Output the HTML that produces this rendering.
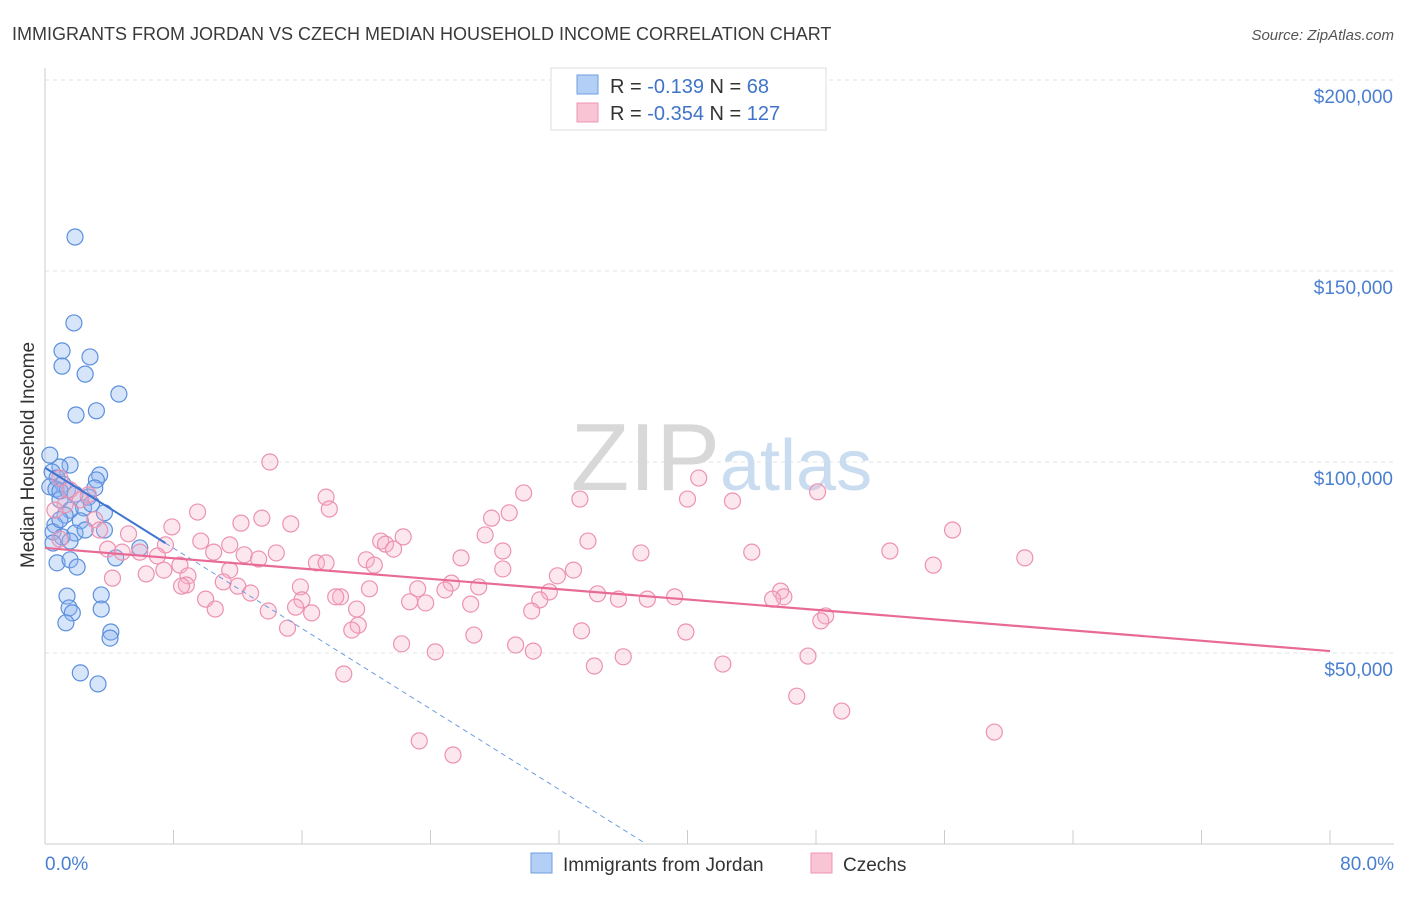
<!DOCTYPE html>
<html><head><meta charset="utf-8"><style>
body{margin:0;background:#fff;font-family:"Liberation Sans",sans-serif}
svg text{font-family:"Liberation Sans",sans-serif}
</style></head><body>
<svg id="c" width="1406" height="892">
<text x="12" y="40" font-size="18" fill="#3a3a3a">IMMIGRANTS FROM JORDAN VS CZECH MEDIAN HOUSEHOLD INCOME CORRELATION CHART</text>
<text x="1394" y="40" font-size="15" fill="#555" font-style="italic" text-anchor="end">Source: ZipAtlas.com</text>
<g id="grid"></g>
<text x="720" y="490" font-size="96" fill="#d8d8d8" text-anchor="end" font-family="Liberation Serif">ZIP</text>
<text x="720" y="490" font-size="72" fill="#c9dcf0">atlas</text>
<g id="marks"></g>
<text x="34" y="455" font-size="19" fill="#333" text-anchor="middle" transform="rotate(-90 34 455)">Median Household Income</text>
<text x="45" y="870" font-size="19" fill="#4a7fd0">0.0%</text>
<text x="1394" y="870" font-size="19" fill="#4a7fd0" text-anchor="end">80.0%</text>
<g>
<rect x="551" y="68" width="275" height="62" fill="#fff" stroke="#ddd"/>
<rect x="577" y="75" width="21" height="19" fill="#b3cff5" stroke="#6d9de0"/>
<rect x="577" y="103" width="21" height="19" fill="#f9c4d4" stroke="#ee94b1"/>
<text x="610" y="93" font-size="20" fill="#333">R = <tspan fill="#3f74c8">-0.139</tspan>   N = <tspan fill="#3f74c8"> 68</tspan></text>
<text x="610" y="120" font-size="20" fill="#333">R = <tspan fill="#3f74c8">-0.354</tspan>   N = <tspan fill="#3f74c8">127</tspan></text>
</g>
<g>
<rect x="531" y="853" width="21" height="20" fill="#b3cff5" stroke="#6d9de0"/>
<text x="563" y="871" font-size="19" fill="#333">Immigrants from Jordan</text>
<rect x="811" y="853" width="21" height="20" fill="#f9c4d4" stroke="#ee94b1"/>
<text x="843" y="871" font-size="19" fill="#333">Czechs</text>
</g>
</svg>
<script>
const yTicks=[50000,100000,150000,200000];
const yTickLabels=["$50,000","$100,000","$150,000","$200,000"];
const blueX=[1.87,1.8,1.06,2.8,1.06,2.5,4.6,3.2,1.93,0.3,1.56,0.93,0.44,3.4,0.75,3.2,1.12,0.3,0.68,3.1,1.4,2.7,0.93,2.4,1.56,3.7,1.25,2.2,0.62,0.5,3.7,1.87,1.06,1.56,0.5,5.9,4.4,0.75,1.56,2.0,1.37,3.5,1.5,3.5,1.7,1.3,4.1,4.05,2.2,3.3,0.93,1.87,2.9,0.93,2.5];
const blueY=[158.9,136.4,129.1,127.5,125.1,123.0,117.8,113.4,112.3,101.8,99.2,98.7,97.4,96.6,95.8,95.3,94.2,93.5,92.9,93.2,92.7,90.8,90.1,88.0,87.4,86.7,86.1,84.6,83.5,81.7,82.2,81.4,80.4,79.3,78.8,77.5,74.9,73.6,74.4,72.5,64.9,65.2,61.8,61.5,60.5,57.9,55.5,53.9,44.8,41.9,92.4,91.6,89.0,84.9,82.2];
const pinkX=[14.0,40.7,29.8,17.5,33.3,40.0,42.8,48.1,17.7,28.9,9.5,13.5,15.3,12.2,7.9,27.8,56.5,5.2,27.4,22.3,20.9,21.2,33.8,11.5,9.7,7.5,21.7,28.5,37.1,44.0,52.6,3.9,4.8,5.9,10.5,14.4,12.4,7.0,61.0,20.0,25.9,13.3,16.9,17.5,20.5,8.4,55.3,11.5,7.4,28.5,32.9,6.3,8.9,4.2,31.9,11.1,25.3,8.8,12.0,8.5,15.9,27.0,20.2,23.2,24.9,45.8,12.8,31.4,34.4,46.0,18.4,18.1,35.7,37.5,39.2,45.3,16.0,22.7,23.7,30.8,10.0,26.5,10.6,15.6,19.4,13.9,30.3,16.6,48.6,48.3,19.5,15.1,19.1,33.4,39.9,26.7,22.2,29.3,30.4,24.3,36.0,47.5,34.2,42.2,18.6,46.8,49.6,59.1,23.3,25.4,0.93,1.56,2.7,1.25,3.1,2.2,0.62,3.4,0.93];
const pinkY=[100.0,95.8,91.9,90.8,90.3,90.3,89.8,92.2,87.7,86.7,86.9,85.3,83.8,84.0,83.0,85.3,82.2,81.2,80.9,80.4,79.3,78.5,79.3,78.3,79.3,78.3,77.2,76.7,76.2,76.4,76.7,77.2,76.4,76.4,76.4,76.2,75.7,75.4,74.9,74.4,74.9,74.6,73.6,73.6,73.0,73.0,73.0,71.7,71.7,72.0,71.7,70.7,70.2,69.6,70.2,68.6,68.3,67.8,67.5,67.5,67.3,67.3,66.8,66.8,66.5,66.2,65.7,66.0,65.5,64.7,64.7,64.7,64.1,64.1,64.7,64.1,63.9,63.4,63.1,63.9,64.1,62.8,61.5,62.0,61.5,61.0,61.0,60.5,59.7,58.4,57.3,56.5,56.0,55.8,55.5,54.7,52.4,52.1,50.5,50.3,49.0,49.2,46.6,47.1,44.5,38.7,34.8,29.3,27.0,23.3,95.8,92.7,91.4,88.8,84.9,90.1,87.4,82.2,79.8];
const blueTrend=[0,98500,80,-112000];
const pinkTrend=[0,77500,80,50500];
const X=v=>45+v/80*1285, Y=v=>844-v/50000*191;
const NS="http://www.w3.org/2000/svg";
const grid=document.getElementById('grid'), marks=document.getElementById('marks'), svg=document.getElementById('c');
function mk(t,a,p){const e=document.createElementNS(NS,t);for(const k in a)e.setAttribute(k,a[k]);(p||svg).appendChild(e);return e;}
yTicks.forEach((t,i)=>{
 const l=mk('line',{x1:45,x2:1394,y1:Y(t),y2:Y(t),stroke:'#e3e3e3','stroke-dasharray':'4 4'},grid);
 
 
 const tx=mk('text',{x:1393,y:Y(t)+23,'font-size':19,fill:'#4a7fd0','text-anchor':'end'},grid);
 tx.textContent=yTickLabels[i];
 
 
});
mk('line',{x1:45,x2:45,y1:68,y2:844,stroke:'#ccc'},grid);
mk('line',{x1:45,x2:1394,y1:844,y2:844,stroke:'#ccc'},grid);
for(let i=0;i<=10;i++){const x=X(i*8);mk('line',{x1:x,x2:x,y1:830,y2:844,stroke:'#ccc'},grid);}
blueX.forEach((v,i)=>{const c=mk('circle',{cx:X(v),cy:Y(blueY[i]*1000),r:8,fill:'rgba(140,180,240,0.35)',stroke:'#5b8fdd','stroke-width':1.2},marks);
 
 });
pinkX.forEach((v,i)=>{const c=mk('circle',{cx:X(v),cy:Y(pinkY[i]*1000),r:8,fill:'rgba(248,175,200,0.3)',stroke:'#ec92b0','stroke-width':1.2},marks);
 
 });
const bv=x=>blueTrend[1]+(blueTrend[3]-blueTrend[1])*x/80;
const zx=-blueTrend[1]/((blueTrend[3]-blueTrend[1])/80);
let l1=mk('line',{x1:X(0),y1:Y(bv(0)),x2:X(7.5),y2:Y(bv(7.5)),stroke:'#3f74d0','stroke-width':2},marks);


let l2=mk('line',{x1:X(7.5),y1:Y(bv(7.5)),x2:X(zx),y2:Y(0),stroke:'#6d9de0','stroke-width':1,'stroke-dasharray':'5 4'},marks);


let l3=mk('line',{x1:X(pinkTrend[0]),y1:Y(pinkTrend[1]),x2:X(pinkTrend[2]),y2:Y(pinkTrend[3]),stroke:'#e86a96','stroke-width':2.2},marks);


</script>
</body></html>
